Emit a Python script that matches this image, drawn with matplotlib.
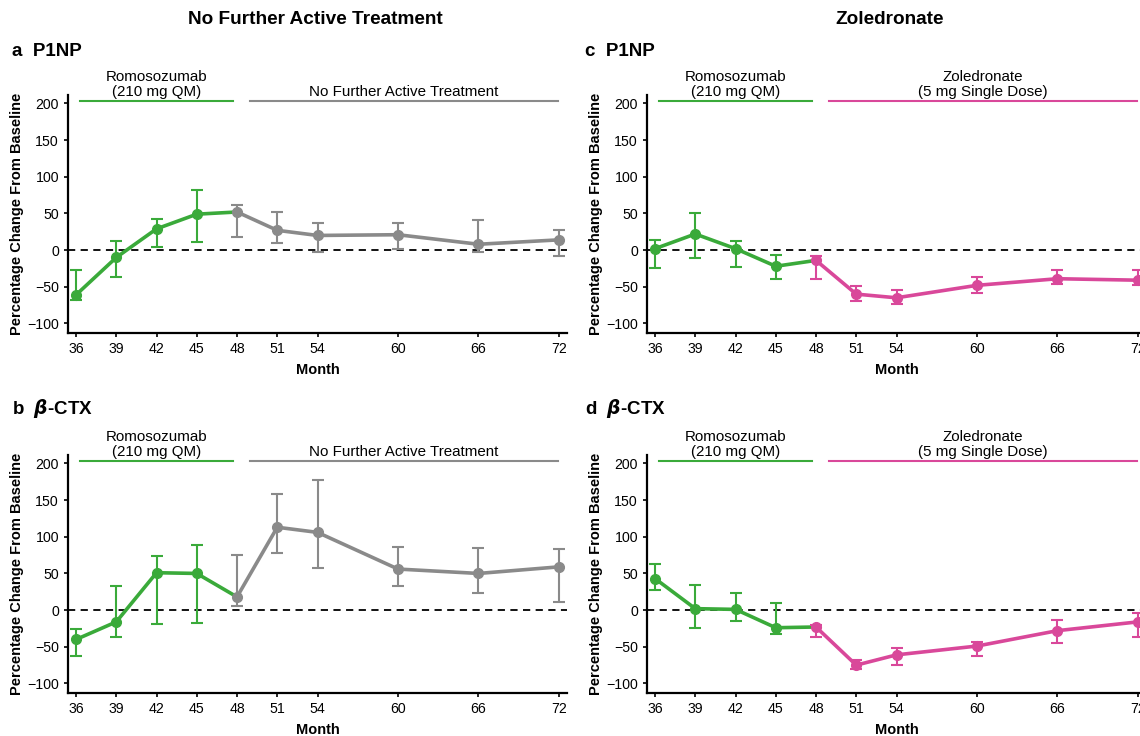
import matplotlib
matplotlib.use("Agg")
import matplotlib.pyplot as plt

plt.rcParams["font.family"] = ["Liberation Sans", "DejaVu Sans"]

GREEN = "#3aaa3a"
GRAY = "#8a8a8a"
PINK = "#d9489a"

months = [36, 39, 42, 45, 48, 51, 54, 60, 66, 72]

# a: P1NP, no further active treatment
a_mean = [-61, -10, 29, 49, 52, 27, 20, 21, 8, 14]
a_lo = [-68, -36, 4, 11, 18, 10, -2, 1, -2, -8]
a_hi = [-27, 12, 43, 82, 62, 52, 37, 37, 41, 27]

# b: beta-CTX, no further active treatment
b_mean = [-40, -16, 51, 50, 18, 113, 106, 56, 50, 59]
b_lo = [-63, -36, -19, -17, 6, 78, 57, 33, 23, 11]
b_hi = [-26, 33, 74, 89, 75, 158, 177, 86, 85, 84]

# c: P1NP, zoledronate
c_mean = [2, 22, 2, -22, -14, -60, -65, -48, -39, -41]
c_lo = [-25, -11, -23, -39, -39, -69, -73, -59, -46, -47]
c_hi = [14, 50, 13, -7, -8, -49, -55, -36, -27, -27]

# d: beta-CTX, zoledronate
d_mean = [43, 2, 1, -24, -23, -75, -61, -49, -28, -16]
d_lo = [28, -24, -15, -32, -37, -80, -75, -63, -45, -37]
d_hi = [63, 34, 24, 10, -20, -68, -52, -44, -14, -4]

SPLIT = 4  # index of month 48, where the second period starts


def draw_panel(ax, mean, lo, hi, color2, label2):
    yerr_lo = [m - l for m, l in zip(mean, lo)]
    yerr_hi = [h - m for m, h in zip(mean, hi)]

    ax.axhline(0, color="black", lw=1.3, ls=(0, (4, 3)), zorder=1)

    # first period (romosozumab)
    ax.plot(months[:SPLIT + 1], mean[:SPLIT + 1], color=GREEN, lw=2.6, zorder=2)
    ax.errorbar(months[:SPLIT], mean[:SPLIT],
                yerr=[yerr_lo[:SPLIT], yerr_hi[:SPLIT]],
                fmt="o", color=GREEN, ms=7, elinewidth=1.5, capsize=4.5,
                capthick=1.5, zorder=3)
    # second period
    ax.plot(months[SPLIT:], mean[SPLIT:], color=color2, lw=2.6, zorder=2)
    ax.errorbar(months[SPLIT:], mean[SPLIT:],
                yerr=[yerr_lo[SPLIT:], yerr_hi[SPLIT:]],
                fmt="o", color=color2, ms=7, elinewidth=1.5, capsize=4.5,
                capthick=1.5, zorder=3)

    ax.set_xlim(35.4, 72.6)
    ax.set_ylim(-113, 211.5)
    ax.set_xticks(months)
    ax.set_yticks([-100, -50, 0, 50, 100, 150, 200])
    ax.set_yticklabels(["\u2212100", "\u221250", "0", "50", "100", "150", "200"])
    ax.tick_params(labelsize=10.2, width=1.2, length=3.2, colors="black", pad=3.3)
    for s in ["top", "right"]:
        ax.spines[s].set_visible(False)
    for s in ["left", "bottom"]:
        ax.spines[s].set_linewidth(1.6)
    ax.set_xlabel("Month", fontsize=10.5, fontweight="bold", labelpad=5)
    ax.set_ylabel("Percentage Change From Baseline", fontsize=10.5,
                  fontweight="bold", labelpad=2)

    # treatment period headers
    hy = 203
    ax.plot([36.3, 47.7], [hy, hy], color=GREEN, lw=1.5, clip_on=False)
    ax.plot([49.0, 71.9], [hy, hy], color=color2, lw=1.5, clip_on=False)
    ax.text(42, hy + 3, "Romosozumab\n(210 mg QM)", ha="center", va="bottom",
            fontsize=10.9, linespacing=1.1)
    ax.text(60.4, hy + 3, label2, ha="center", va="bottom", fontsize=10.9,
            linespacing=1.1)


fig = plt.figure(figsize=(11.4, 7.36), dpi=100)
W, H = 1140, 736
aw, ah = 499 / W, 238 / H
ax_a = fig.add_axes([68 / W, 1 - 333 / H, aw, ah])
ax_b = fig.add_axes([68 / W, 1 - 693 / H, aw, ah])
ax_c = fig.add_axes([647 / W, 1 - 333 / H, aw, ah])
ax_d = fig.add_axes([647 / W, 1 - 693 / H, aw, ah])

draw_panel(ax_a, a_mean, a_lo, a_hi, GRAY, "No Further Active Treatment")
draw_panel(ax_b, b_mean, b_lo, b_hi, GRAY, "No Further Active Treatment")
draw_panel(ax_c, c_mean, c_lo, c_hi, PINK, "Zoledronate\n(5 mg Single Dose)")
draw_panel(ax_d, d_mean, d_lo, d_hi, PINK, "Zoledronate\n(5 mg Single Dose)")

fig.text(315 / W, 1 - 20 / H, "No Further Active Treatment", ha="center",
         va="center", fontsize=13.7, fontweight="bold")
fig.text(890 / W, 1 - 20 / H, "Zoledronate", ha="center", va="center",
         fontsize=13.7, fontweight="bold")

fig.text(12 / W, 1 - 52 / H, "a  P1NP", ha="left", va="center", fontsize=13.5,
         fontweight="bold")
fig.text(12 / W, 1 - 408 / H, r"b  $\boldsymbol{\beta}$-CTX", ha="left",
         va="center", fontsize=13.5, fontweight="bold")
fig.text(585 / W, 1 - 52 / H, "c  P1NP", ha="left", va="center", fontsize=13.5,
         fontweight="bold")
fig.text(585 / W, 1 - 408 / H, r"d  $\boldsymbol{\beta}$-CTX", ha="left",
         va="center", fontsize=13.5, fontweight="bold")

fig.savefig("out.png", dpi=100, facecolor="white")
